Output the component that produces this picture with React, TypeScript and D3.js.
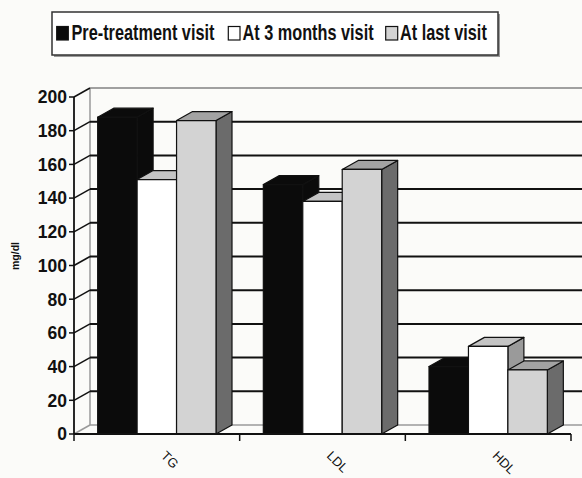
import React from "react";
import * as d3 from "d3";

const categories = ["TG", "LDL", "HDL"];
const seriesNames = ["Pre-treatment visit", "At 3 months visit", "At last visit"];
const preTreatment = [188, 148, 40];
const atThreeMonths = [151, 138, 52];
const atLastVisit = [186, 157, 38];
const yTicks = [0, 20, 40, 60, 80, 100, 120, 140, 160, 180, 200];

const W = 582;
const H = 478;
const DX = 16;
const DY = -9;

const faces = [
  { front: "#0b0b0b", top: "#0b0b0b", side: "#0b0b0b" },
  { front: "#ffffff", top: "#c4c4c4", side: "#9a9a9a" },
  { front: "#d3d3d3", top: "#a3a3a3", side: "#6b6b6b" },
];

export default function App() {
  const series = [preTreatment, atThreeMonths, atLastVisit];
  const x0 = d3.scaleBand<string>().domain(categories).range([74, 571]).paddingInner(0).paddingOuter(0);
  const x1 = d3
    .scaleBand<string>()
    .domain(seriesNames)
    .range([0, x0.bandwidth()])
    .paddingInner(0)
    .paddingOuter(0.6);
  const y = d3.scaleLinear().domain([0, 200]).range([434, 97]);
  const y0 = y(0);
  const xL = 74;
  const xR = 571;

  const bars: JSX.Element[] = [];
  categories.forEach((c, ci) => {
    seriesNames.forEach((s, si) => {
      const v = series[si][ci];
      const xl = (x0(c) as number) + (x1(s) as number);
      const w = x1.bandwidth();
      const yt = y(v);
      const f = faces[si];
      const top = `${xl},${yt} ${xl + DX},${yt + DY} ${xl + w + DX},${yt + DY} ${xl + w},${yt}`;
      const side = `${xl + w},${yt} ${xl + w + DX},${yt + DY} ${xl + w + DX},${y0 + DY} ${xl + w},${y0}`;
      bars.push(
        <g key={`${c}-${s}`} stroke="#111" strokeWidth={1.2} strokeLinejoin="round">
          <polygon points={side} fill={f.side} />
          <polygon points={top} fill={f.top} />
          <rect x={xl} y={yt} width={w} height={y0 - yt} fill={f.front} />
        </g>
      );
    });
  });

  // legend text: natural width at 22px bold ~ ratio; compress horizontally with scale
  const SX = 0.74;
  const legendItems = [
    { sq: 56.7, sqw: 11.6, tx: 71.5, fill: "#0b0b0b" },
    { sq: 228.3, sqw: 11.7, tx: 242.5, fill: "#ffffff" },
    { sq: 385.7, sqw: 12, tx: 400, fill: "#d3d3d3" },
  ];

  return (
    <svg
      width={W}
      height={H}
      viewBox={`0 0 ${W} ${H}`}
      style={{ position: "absolute", left: 0, top: 0 }}
      fontFamily="Liberation Sans, Arial, sans-serif"
    >
      <rect x={0} y={0} width={W} height={H} fill="#fbfbf9" />

      {/* Legend */}
      <rect x={54} y={14} width={446} height={43} fill="#9a9a9a" />
      <rect x={52} y={12} width={446} height={43} fill="#ffffff" stroke="#333" strokeWidth={1.5} />
      {legendItems.map((it, i) => (
        <g key={seriesNames[i]}>
          <rect x={it.sq} y={26.5} width={it.sqw} height={13.5} fill={it.fill} stroke="#111" strokeWidth={1.2} />
          <g transform={`translate(${it.tx},40) scale(${SX},1)`}>
            <text x={0} y={0} fontSize={22} fontWeight="bold" fill="#111">
              {seriesNames[i]}
            </text>
          </g>
        </g>
      ))}

      {/* Left wall vertical edge and floor */}
      <line x1={xL + DX} y1={y(200) + DY} x2={xL + DX} y2={y0 + DY} stroke="#9a9a9a" strokeWidth={1.5} />
      <line x1={xL} y1={y0} x2={xL + DX} y2={y0 + DY} stroke="#9a9a9a" strokeWidth={1.5} />
      <line x1={xL + DX} y1={y0 + DY} x2={xR + DX} y2={y0 + DY} stroke="#9a9a9a" strokeWidth={1.5} />

      {/* Back wall gridlines */}
      {yTicks
        .filter((t) => t > 0)
        .map((t) => (
          <line
            key={`g${t}`}
            x1={xL + DX}
            y1={y(t) + DY}
            x2={xR + DX}
            y2={y(t) + DY}
            stroke={t === 200 ? "#a0a0a0" : "#111"}
            strokeWidth={2}
          />
        ))}
      {/* Side wall gridlines */}
      {yTicks
        .filter((t) => t > 0)
        .map((t) => (
          <line key={`s${t}`} x1={xL} y1={y(t)} x2={xL + DX} y2={y(t) + DY} stroke="#111" strokeWidth={1.5} />
        ))}

      {bars}

      {/* Y axis */}
      <line x1={xL} y1={y0} x2={xL} y2={y(200)} stroke="#111" strokeWidth={1.8} />
      {yTicks.map((t) => (
        <g key={`t${t}`}>
          <line x1={69} y1={y(t)} x2={xL} y2={y(t)} stroke="#111" strokeWidth={1.5} />
          <text x={67} y={y(t)} dy="0.36em" textAnchor="end" fontSize={17.5} fontWeight="bold" fill="#111">
            {t}
          </text>
        </g>
      ))}

      {/* X axis */}
      <line x1={xL} y1={y0} x2={xR} y2={y0} stroke="#111" strokeWidth={1.8} />
      {[...categories.map((c) => x0(c) as number), xR].map((xv, i) => (
        <line key={`xt${i}`} x1={xv} y1={y0} x2={xv} y2={y0 + 7} stroke="#111" strokeWidth={1.5} />
      ))}
      {categories.map((c) => {
        const cx = (x0(c) as number) + x0.bandwidth() / 2;
        return (
          <text
            key={`cl${c}`}
            transform={`translate(${cx + 10},${450}) rotate(45)`}
            dy="0.71em"
            fontSize={13}
            fill="#111"
          >
            {c}
          </text>
        );
      })}

      {/* Y axis title */}
      <text
        transform="translate(19,256) rotate(-90)"
        textAnchor="middle"
        fontSize={10.5}
        fontWeight="bold"
        fill="#111"
      >
        mg/dl
      </text>
    </svg>
  );
}
